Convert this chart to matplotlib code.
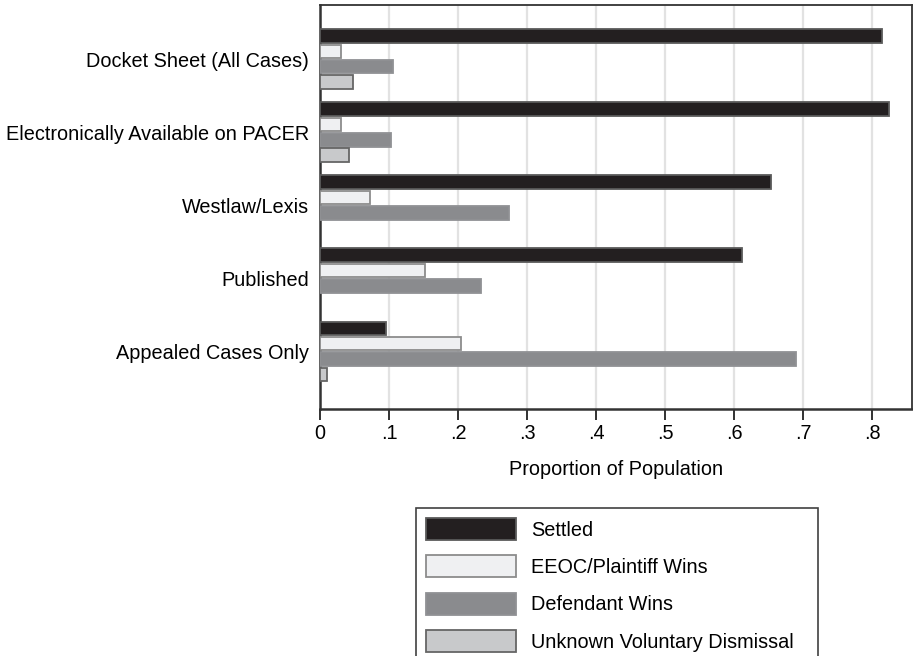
import numpy as np
import matplotlib
matplotlib.use("Agg")
import matplotlib.pyplot as plt

plt.rcParams["font.family"] = ["Liberation Sans", "DejaVu Sans"]

# ── data ──────────────────────────────────────────────────────────────────────
categories = [
    "Docket Sheet (All Cases)",
    "Electronically Available on PACER",
    "Westlaw/Lexis",
    "Published",
    "Appealed Cases Only",
]
settled = [0.815, 0.824, 0.654, 0.612, 0.095]
plaintiff_wins = [0.030, 0.030, 0.072, 0.152, 0.205]
defendant_wins = [0.106, 0.103, 0.274, 0.234, 0.690]
unknown_dismissal = [0.048, 0.042, 0.0, 0.0, 0.010]

xticks = [0, 0.1, 0.2, 0.3, 0.4, 0.5, 0.6, 0.7, 0.8]
xtick_labels = ["0", ".1", ".2", ".3", ".4", ".5", ".6", ".7", ".8"]

series = [
    ("Settled", settled, "#231f20", "#5a5a5a"),
    ("EEOC/Plaintiff Wins", plaintiff_wins, "#eff0f2", "#8c8c8c"),
    ("Defendant Wins", defendant_wins, "#8a8b8e", "#909194"),
    ("Unknown Voluntary Dismissal", unknown_dismissal, "#c8c9cb", "#666666"),
]

FS = 14.3

# ── plot ──────────────────────────────────────────────────────────────────────
fig = plt.figure(figsize=(9.13, 6.56), dpi=100)
ax = fig.add_axes([320 / 913, 1 - 409 / 656, 592 / 913, 404 / 656])

y = np.arange(len(categories))
pitch = 0.21
bar_h = 0.185
for i, (name, vals, fc, ec) in enumerate(series):
    off = (i - 1.5) * pitch
    vals = np.array(vals)
    # 값이 0인 막대는 테두리도 그리지 않음
    lw = np.where(vals > 0, 1.3, 0.0)
    ax.barh(y + off, vals, height=bar_h, color=fc, edgecolor=ec,
            linewidth=lw, label=name, zorder=3)

ax.set_xlim(0, 0.858)
ax.set_ylim(len(categories) - 1 + 0.79, -0.74)
ax.set_xticks(xticks)
ax.set_xticklabels(xtick_labels, fontsize=FS)
ax.set_yticks(y)
ax.set_yticklabels(categories, fontsize=FS)
ax.tick_params(axis="y", length=0, pad=8)
ax.tick_params(axis="x", length=8, width=1.3, color="#222222", pad=3)
ax.grid(axis="x", color="#e2e2e2", linewidth=1.6, zorder=0)
ax.set_axisbelow(True)
for s in ax.spines.values():
    s.set_color("#333333")
    s.set_linewidth(1.3)
ax.spines["left"].set_linewidth(1.8)
ax.spines["bottom"].set_linewidth(1.8)
ax.set_xlabel("Proportion of Population", fontsize=FS, labelpad=12)

# 범례 박스: 왼쪽 416px, 오른쪽 818px, 위 508px (아래는 그림 밖으로 잘림)
leg_top = 1 - 508 / 656
leg = fig.legend(
    loc="upper left", mode="expand",
    bbox_to_anchor=(416 / 913, leg_top - 0.3, 402 / 913, 0.3),
    fontsize=FS, frameon=True, fancybox=False, edgecolor="#111111",
    handlelength=4.55, handleheight=1.32, handletextpad=0.75,
    labelspacing=0.78, borderpad=0.5, borderaxespad=0,
)
leg.get_frame().set_linewidth(1.2)

fig.savefig("out.png", dpi=100)
